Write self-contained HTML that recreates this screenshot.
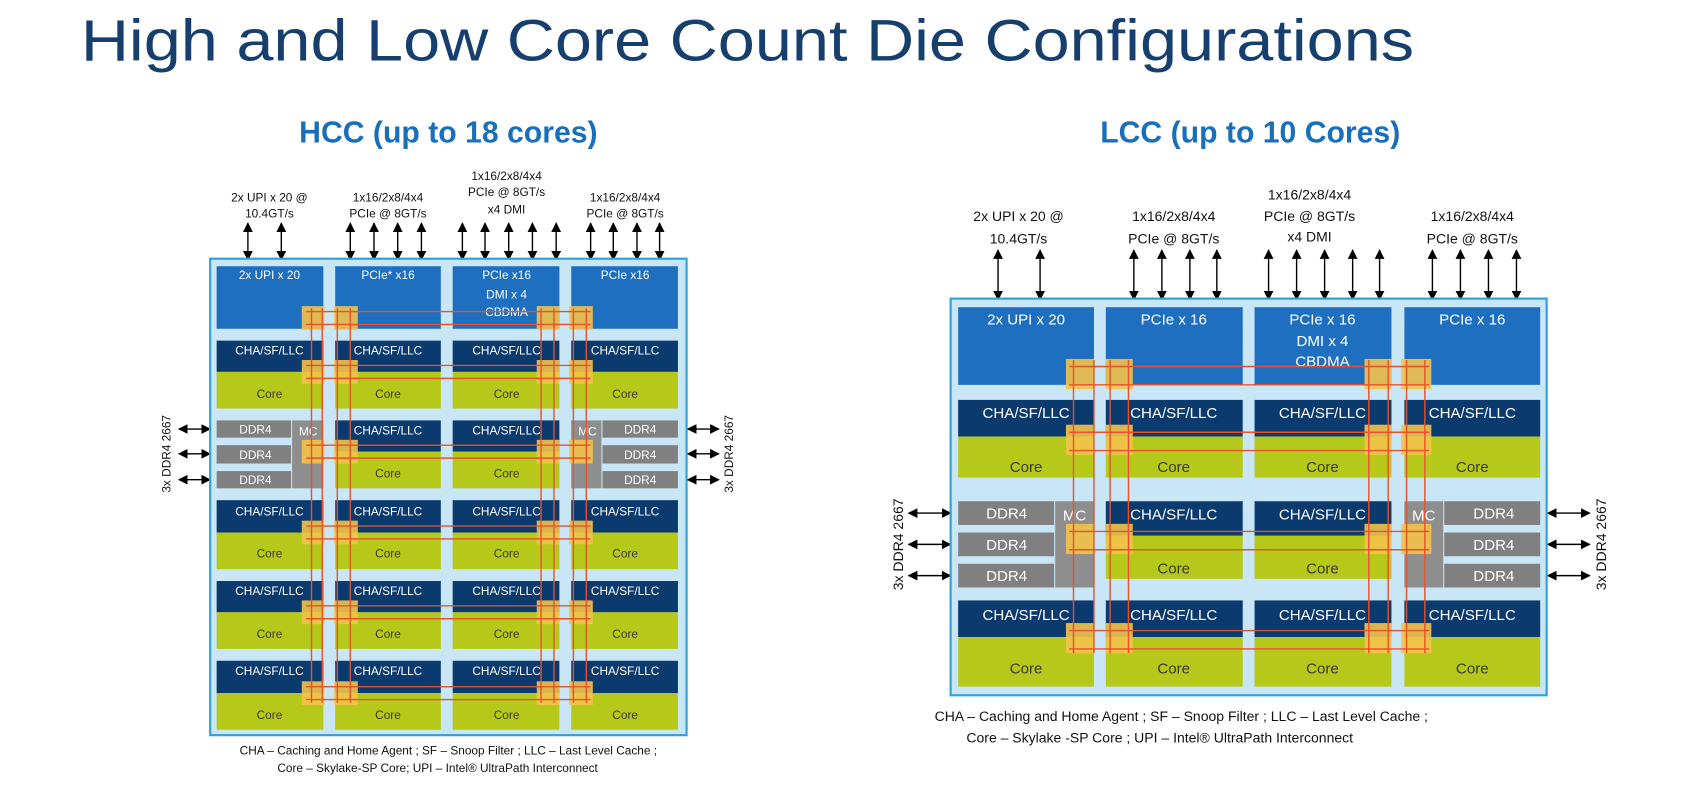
<!DOCTYPE html>
<html><head><meta charset="utf-8"><style>
html,body{margin:0;padding:0;background:#fff;}
svg{display:block;font-family:"Liberation Sans",sans-serif;}
.w{fill:#fff;font-size:11px;text-anchor:middle}
.c{fill:#3a3a2a;font-size:11px;text-anchor:middle}
.k{fill:#111;font-size:11px;text-anchor:middle}
.W{fill:#fff;font-size:14px;text-anchor:middle}
.C{fill:#3a3a2a;font-size:14px;text-anchor:middle}
.K{fill:#111;font-size:13px;text-anchor:middle}
.pc{fill:#1f6fc0}.ch{fill:#0b3a6f}.co{fill:#b6c91b}.dd{fill:#808080}.mc{fill:#8e8e8e}
.y{fill:#f3c34a;opacity:.9}
.r{stroke:#e8512a;stroke-width:1.3;fill:none}
.a{stroke:#000;stroke-width:1.3}
</style></head><body>
<svg width="1690" height="802" viewBox="0 0 1568 744" preserveAspectRatio="none" xmlns="http://www.w3.org/2000/svg">
<defs>
<marker id="m" viewBox="0 0 10 10" refX="9" refY="5" markerWidth="7" markerHeight="7" orient="auto-start-reverse"><path d="M0,0L10,5L0,10z" fill="#000"/></marker>
</defs>
<text x="75" y="56" font-size="54" fill="#163f6e" textLength="1237" lengthAdjust="spacingAndGlyphs">High and Low Core Count Die Configurations</text>
<text x="416" y="132" font-size="28" font-weight="bold" fill="#1a6fba" text-anchor="middle">HCC (up to 18 cores)</text>
<text x="1160" y="132" font-size="28" font-weight="bold" fill="#1a6fba" text-anchor="middle">LCC (up to 10 Cores)</text>

<!-- ================= HCC ================= -->
<g class="k">
<text x="250" y="187">2x UPI x 20 @</text><text x="250" y="202">10.4GT/s</text>
<text x="360" y="187">1x16/2x8/4x4</text><text x="360" y="202">PCIe @ 8GT/s</text>
<text x="470" y="167">1x16/2x8/4x4</text><text x="470" y="182">PCIe @ 8GT/s</text><text x="470" y="198">x4 DMI</text>
<text x="580" y="187">1x16/2x8/4x4</text><text x="580" y="202">PCIe @ 8GT/s</text>
</g>
<g class="a" marker-start="url(#m)" marker-end="url(#m)">
<line x1="230" y1="207" x2="230" y2="241"/><line x1="261" y1="207" x2="261" y2="241"/>
<line x1="325" y1="207" x2="325" y2="241"/><line x1="347" y1="207" x2="347" y2="241"/><line x1="369" y1="207" x2="369" y2="241"/><line x1="391" y1="207" x2="391" y2="241"/>
<line x1="429" y1="207" x2="429" y2="241"/><line x1="450" y1="207" x2="450" y2="241"/><line x1="472" y1="207" x2="472" y2="241"/><line x1="494" y1="207" x2="494" y2="241"/><line x1="516" y1="207" x2="516" y2="241"/>
<line x1="548" y1="207" x2="548" y2="241"/><line x1="569" y1="207" x2="569" y2="241"/><line x1="591" y1="207" x2="591" y2="241"/><line x1="612" y1="207" x2="612" y2="241"/>
<line x1="166" y1="398" x2="195" y2="398"/><line x1="166" y1="421" x2="195" y2="421"/><line x1="166" y1="445" x2="195" y2="445"/>
<line x1="638" y1="398" x2="667" y2="398"/><line x1="638" y1="421" x2="667" y2="421"/><line x1="638" y1="445" x2="667" y2="445"/>
</g>
<text transform="translate(158,421) rotate(-90)" class="k">3x DDR4 2667</text>
<text transform="translate(680,421) rotate(-90)" class="k">3x DDR4 2667</text>

<rect x="195" y="240" width="442" height="442" fill="#c8e6f5" stroke="#2aa3dc" stroke-width="2"/>
<!-- row1 -->
<rect class="pc" x="201" y="247" width="99" height="58"/><rect class="pc" x="311" y="247" width="98" height="58"/><rect class="pc" x="420" y="247" width="99" height="58"/><rect class="pc" x="530" y="247" width="99" height="58"/>
<text class="w" x="250" y="259">2x UPI x 20</text><text class="w" x="360" y="259">PCIe* x16</text><text class="w" x="470" y="259">PCIe x16</text><text class="w" x="470" y="277">DMI x 4</text><text class="w" x="470" y="293">CBDMA</text><text class="w" x="580" y="259">PCIe x16</text>
<!-- row2 -->
<g>
<rect class="ch" x="201" y="316" width="99" height="29"/><rect class="ch" x="311" y="316" width="98" height="29"/><rect class="ch" x="420" y="316" width="99" height="29"/><rect class="ch" x="530" y="316" width="99" height="29"/>
<rect class="co" x="201" y="345" width="99" height="34"/><rect class="co" x="311" y="345" width="98" height="34"/><rect class="co" x="420" y="345" width="99" height="34"/><rect class="co" x="530" y="345" width="99" height="34"/>
<text class="w" x="250" y="329">CHA/SF/LLC</text><text class="w" x="360" y="329">CHA/SF/LLC</text><text class="w" x="470" y="329">CHA/SF/LLC</text><text class="w" x="580" y="329">CHA/SF/LLC</text>
<text class="c" x="250" y="369">Core</text><text class="c" x="360" y="369">Core</text><text class="c" x="470" y="369">Core</text><text class="c" x="580" y="369">Core</text>
</g>
<!-- row3 memory -->
<rect class="dd" x="201" y="390" width="69" height="16"/><rect class="dd" x="201" y="413" width="69" height="17"/><rect class="dd" x="201" y="437" width="69" height="16"/>
<rect class="mc" x="271" y="390" width="29" height="63"/>
<rect class="mc" x="530" y="390" width="28" height="63"/>
<rect class="dd" x="559" y="390" width="70" height="16"/><rect class="dd" x="559" y="413" width="70" height="17"/><rect class="dd" x="559" y="437" width="70" height="16"/>
<text class="w" x="237" y="402">DDR4</text><text class="w" x="237" y="426">DDR4</text><text class="w" x="237" y="449">DDR4</text>
<text class="w" x="594" y="402">DDR4</text><text class="w" x="594" y="426">DDR4</text><text class="w" x="594" y="449">DDR4</text>
<text class="w" x="286" y="404">MC</text><text class="w" x="545" y="404">MC</text>
<rect class="ch" x="311" y="390" width="98" height="29"/><rect class="ch" x="420" y="390" width="99" height="29"/>
<rect class="co" x="311" y="419" width="98" height="34"/><rect class="co" x="420" y="419" width="99" height="34"/>
<text class="w" x="360" y="403">CHA/SF/LLC</text><text class="w" x="470" y="403">CHA/SF/LLC</text>
<text class="c" x="360" y="443">Core</text><text class="c" x="470" y="443">Core</text>
<!-- rows 4-6 -->
<g>
<rect class="ch" x="201" y="464" width="99" height="30"/><rect class="ch" x="311" y="464" width="98" height="30"/><rect class="ch" x="420" y="464" width="99" height="30"/><rect class="ch" x="530" y="464" width="99" height="30"/>
<rect class="co" x="201" y="494" width="99" height="34"/><rect class="co" x="311" y="494" width="98" height="34"/><rect class="co" x="420" y="494" width="99" height="34"/><rect class="co" x="530" y="494" width="99" height="34"/>
<text class="w" x="250" y="478">CHA/SF/LLC</text><text class="w" x="360" y="478">CHA/SF/LLC</text><text class="w" x="470" y="478">CHA/SF/LLC</text><text class="w" x="580" y="478">CHA/SF/LLC</text>
<text class="c" x="250" y="517">Core</text><text class="c" x="360" y="517">Core</text><text class="c" x="470" y="517">Core</text><text class="c" x="580" y="517">Core</text>

<rect class="ch" x="201" y="539" width="99" height="29"/><rect class="ch" x="311" y="539" width="98" height="29"/><rect class="ch" x="420" y="539" width="99" height="29"/><rect class="ch" x="530" y="539" width="99" height="29"/>
<rect class="co" x="201" y="568" width="99" height="34"/><rect class="co" x="311" y="568" width="98" height="34"/><rect class="co" x="420" y="568" width="99" height="34"/><rect class="co" x="530" y="568" width="99" height="34"/>
<text class="w" x="250" y="552">CHA/SF/LLC</text><text class="w" x="360" y="552">CHA/SF/LLC</text><text class="w" x="470" y="552">CHA/SF/LLC</text><text class="w" x="580" y="552">CHA/SF/LLC</text>
<text class="c" x="250" y="592">Core</text><text class="c" x="360" y="592">Core</text><text class="c" x="470" y="592">Core</text><text class="c" x="580" y="592">Core</text>

<rect class="ch" x="201" y="613" width="99" height="30"/><rect class="ch" x="311" y="613" width="98" height="30"/><rect class="ch" x="420" y="613" width="99" height="30"/><rect class="ch" x="530" y="613" width="99" height="30"/>
<rect class="co" x="201" y="643" width="99" height="34"/><rect class="co" x="311" y="643" width="98" height="34"/><rect class="co" x="420" y="643" width="99" height="34"/><rect class="co" x="530" y="643" width="99" height="34"/>
<text class="w" x="250" y="626">CHA/SF/LLC</text><text class="w" x="360" y="626">CHA/SF/LLC</text><text class="w" x="470" y="626">CHA/SF/LLC</text><text class="w" x="580" y="626">CHA/SF/LLC</text>
<text class="c" x="250" y="667">Core</text><text class="c" x="360" y="667">Core</text><text class="c" x="470" y="667">Core</text><text class="c" x="580" y="667">Core</text>
</g>
<!-- HCC mesh -->
<g class="y">
<rect x="280" y="284" width="21" height="22"/><rect x="310" y="284" width="22" height="22"/><rect x="498" y="284" width="21" height="22"/><rect x="528" y="284" width="22" height="22"/>
<rect x="280" y="334" width="21" height="22"/><rect x="310" y="334" width="22" height="22"/><rect x="498" y="334" width="21" height="22"/><rect x="528" y="334" width="22" height="22"/>
<rect x="280" y="408" width="21" height="22"/><rect x="310" y="408" width="22" height="22"/><rect x="498" y="408" width="21" height="22"/><rect x="528" y="408" width="22" height="22"/>
<rect x="280" y="483" width="21" height="22"/><rect x="310" y="483" width="22" height="22"/><rect x="498" y="483" width="21" height="22"/><rect x="528" y="483" width="22" height="22"/>
<rect x="280" y="557" width="21" height="22"/><rect x="310" y="557" width="22" height="22"/><rect x="498" y="557" width="21" height="22"/><rect x="528" y="557" width="22" height="22"/>
<rect x="280" y="632" width="21" height="22"/><rect x="310" y="632" width="22" height="22"/><rect x="498" y="632" width="21" height="22"/><rect x="528" y="632" width="22" height="22"/>
</g>
<g class="r">
<path d="M284,289H548M284,301H548M284,339H548M284,351H548M284,413H548M284,425H548M284,488H548M284,500H548M284,562H548M284,574H548M284,637H548M284,649H548"/>
<path d="M289,286V652M299,286V652M313,286V652M325,286V652M502,286V652M514,286V652M532,286V652M544,286V652"/>
</g>

<text class="k" x="416" y="700">CHA – Caching and Home Agent   ; SF – Snoop Filter ; LLC – Last Level Cache ;</text>
<text class="k" x="406" y="716">Core – Skylake-SP Core; UPI – Intel® UltraPath Interconnect</text>

<!-- ================= LCC ================= -->
<g class="K">
<text x="945" y="205">2x UPI x 20 @</text><text x="945" y="226">10.4GT/s</text>
<text x="1089" y="205">1x16/2x8/4x4</text><text x="1089" y="226">PCIe @ 8GT/s</text>
<text x="1215" y="185">1x16/2x8/4x4</text><text x="1215" y="205">PCIe @ 8GT/s</text><text x="1215" y="224">x4 DMI</text>
<text x="1366" y="205">1x16/2x8/4x4</text><text x="1366" y="226">PCIe @ 8GT/s</text>
</g>
<g class="a" marker-start="url(#m)" marker-end="url(#m)">
<line x1="926" y1="232" x2="926" y2="278"/><line x1="965" y1="232" x2="965" y2="278"/>
<line x1="1052" y1="232" x2="1052" y2="278"/><line x1="1078" y1="232" x2="1078" y2="278"/><line x1="1104" y1="232" x2="1104" y2="278"/><line x1="1129" y1="232" x2="1129" y2="278"/>
<line x1="1177" y1="232" x2="1177" y2="278"/><line x1="1203" y1="232" x2="1203" y2="278"/><line x1="1229" y1="232" x2="1229" y2="278"/><line x1="1255" y1="232" x2="1255" y2="278"/><line x1="1280" y1="232" x2="1280" y2="278"/>
<line x1="1329" y1="232" x2="1329" y2="278"/><line x1="1355" y1="232" x2="1355" y2="278"/><line x1="1381" y1="232" x2="1381" y2="278"/><line x1="1407" y1="232" x2="1407" y2="278"/>
<line x1="843" y1="476" x2="882" y2="476"/><line x1="843" y1="505" x2="882" y2="505"/><line x1="843" y1="534" x2="882" y2="534"/>
<line x1="1436" y1="476" x2="1475" y2="476"/><line x1="1436" y1="505" x2="1475" y2="505"/><line x1="1436" y1="534" x2="1475" y2="534"/>
</g>
<text transform="translate(838,505) rotate(-90)" class="K">3x DDR4 2667</text>
<text transform="translate(1490,505) rotate(-90)" class="K">3x DDR4 2667</text>

<rect x="882" y="277" width="553" height="368" fill="#c8e6f5" stroke="#2aa3dc" stroke-width="2"/>
<rect class="pc" x="889" y="285" width="126" height="72"/><rect class="pc" x="1026" y="285" width="127" height="72"/><rect class="pc" x="1164" y="285" width="127" height="72"/><rect class="pc" x="1303" y="285" width="126" height="72"/>
<text class="W" x="952" y="301">2x UPI x 20</text><text class="W" x="1089" y="301">PCIe x 16</text><text class="W" x="1227" y="301">PCIe x 16</text><text class="W" x="1227" y="321">DMI x 4</text><text class="W" x="1227" y="340">CBDMA</text><text class="W" x="1366" y="301">PCIe x 16</text>

<rect class="ch" x="889" y="371" width="126" height="34"/><rect class="ch" x="1026" y="371" width="127" height="34"/><rect class="ch" x="1164" y="371" width="127" height="34"/><rect class="ch" x="1303" y="371" width="126" height="34"/>
<rect class="co" x="889" y="405" width="126" height="38"/><rect class="co" x="1026" y="405" width="127" height="38"/><rect class="co" x="1164" y="405" width="127" height="38"/><rect class="co" x="1303" y="405" width="126" height="38"/>
<text class="W" x="952" y="388">CHA/SF/LLC</text><text class="W" x="1089" y="388">CHA/SF/LLC</text><text class="W" x="1227" y="388">CHA/SF/LLC</text><text class="W" x="1366" y="388">CHA/SF/LLC</text>
<text class="C" x="952" y="438">Core</text><text class="C" x="1089" y="438">Core</text><text class="C" x="1227" y="438">Core</text><text class="C" x="1366" y="438">Core</text>

<rect class="dd" x="889" y="465" width="89" height="22"/><rect class="dd" x="889" y="494" width="89" height="22"/><rect class="dd" x="889" y="523" width="89" height="22"/>
<rect class="mc" x="979" y="465" width="36" height="80"/>
<rect class="mc" x="1303" y="465" width="36" height="80"/>
<rect class="dd" x="1340" y="465" width="89" height="22"/><rect class="dd" x="1340" y="494" width="89" height="22"/><rect class="dd" x="1340" y="523" width="89" height="22"/>
<text class="W" x="934" y="481">DDR4</text><text class="W" x="934" y="510">DDR4</text><text class="W" x="934" y="539">DDR4</text>
<text class="W" x="1386" y="481">DDR4</text><text class="W" x="1386" y="510">DDR4</text><text class="W" x="1386" y="539">DDR4</text>
<text class="W" x="997" y="483">MC</text><text class="W" x="1321" y="483">MC</text>
<rect class="ch" x="1026" y="465" width="127" height="32"/><rect class="ch" x="1164" y="465" width="127" height="32"/>
<rect class="co" x="1026" y="497" width="127" height="40"/><rect class="co" x="1164" y="497" width="127" height="40"/>
<text class="W" x="1089" y="482">CHA/SF/LLC</text><text class="W" x="1227" y="482">CHA/SF/LLC</text>
<text class="C" x="1089" y="532">Core</text><text class="C" x="1227" y="532">Core</text>

<rect class="ch" x="889" y="557" width="126" height="34"/><rect class="ch" x="1026" y="557" width="127" height="34"/><rect class="ch" x="1164" y="557" width="127" height="34"/><rect class="ch" x="1303" y="557" width="126" height="34"/>
<rect class="co" x="889" y="591" width="126" height="46"/><rect class="co" x="1026" y="591" width="127" height="46"/><rect class="co" x="1164" y="591" width="127" height="46"/><rect class="co" x="1303" y="591" width="126" height="46"/>
<text class="W" x="952" y="575">CHA/SF/LLC</text><text class="W" x="1089" y="575">CHA/SF/LLC</text><text class="W" x="1227" y="575">CHA/SF/LLC</text><text class="W" x="1366" y="575">CHA/SF/LLC</text>
<text class="C" x="952" y="625">Core</text><text class="C" x="1089" y="625">Core</text><text class="C" x="1227" y="625">Core</text><text class="C" x="1366" y="625">Core</text>

<g class="y">
<rect x="989" y="333" width="26" height="28"/><rect x="1026" y="333" width="25" height="28"/><rect x="1266" y="333" width="25" height="28"/><rect x="1300" y="333" width="28" height="28"/>
<rect x="989" y="394" width="26" height="28"/><rect x="1026" y="394" width="25" height="28"/><rect x="1266" y="394" width="25" height="28"/><rect x="1300" y="394" width="28" height="28"/>
<rect x="989" y="486" width="26" height="28"/><rect x="1026" y="486" width="25" height="28"/><rect x="1266" y="486" width="25" height="28"/><rect x="1300" y="486" width="28" height="28"/>
<rect x="989" y="578" width="26" height="28"/><rect x="1026" y="578" width="25" height="28"/><rect x="1266" y="578" width="25" height="28"/><rect x="1300" y="578" width="28" height="28"/>
</g>
<g class="r">
<path d="M992,340H1326M992,357H1326M992,401H1326M992,418H1326M992,493H1326M992,510H1326M992,585H1326M992,602H1326"/>
<path d="M996,334V606M1015,334V606M1030,334V606M1047,334V606M1270,334V606M1288,334V606M1305,334V606M1322,334V606"/>
</g>

<text class="K" x="1096" y="669">CHA – Caching and Home Agent    ; SF – Snoop Filter ; LLC – Last Level Cache   ;</text>
<text class="K" x="1076" y="689">Core – Skylake -SP Core ; UPI – Intel® UltraPath Interconnect</text>
</svg>
</body></html>
